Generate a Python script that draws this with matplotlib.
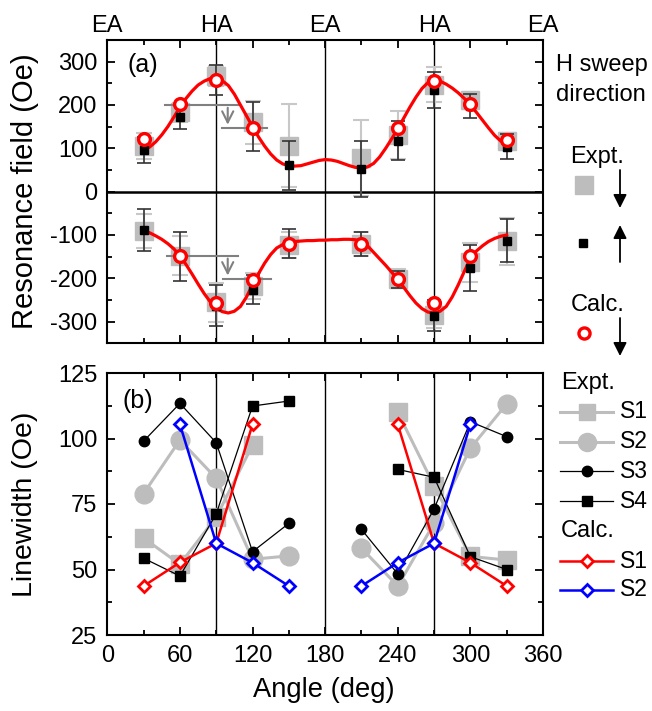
import numpy as np
import matplotlib
matplotlib.use("Agg")
import matplotlib.pyplot as plt
from matplotlib.ticker import MultipleLocator

plt.rcParams['font.family'] = ['Liberation Sans', 'DejaVu Sans']
plt.rcParams['axes.unicode_minus'] = False

# ---------------- data: panel (a) ----------------
ang = [30, 60, 90, 120, 150, 210, 240, 270, 300, 330]
up_gray = [105, 183, 266, 160, 106, 78, 131, 247, 211, 116]
up_gray_err = [30, 22, 23, 50, 96, 87, 55, 40, 20, 20]
up_black = [96, 172, 258, 150, 61, 53, 118, 235, 198, 104]
up_black_err = [30, 27, 35, 57, 57, 65, 44, 42, 27, 28]
lo_gray = [-91, -148, -255, -218, -122, -120, -201, -284, -163, -115]
lo_gray_err = [40, 45, 45, 30, 30, 28, 22, 30, 45, 55]
lo_black = [-89, -150, -263, -226, -120, -120, -203, -286, -176, -113]
lo_black_err = [49, 56, 48, 33, 33, 28, 20, 35, 53, 50]

calc_up_ang = [30, 60, 90, 120, 240, 270, 300, 330]
calc_up = [121, 202, 257, 147, 147, 255, 202, 120]
calc_lo_ang = [60, 90, 120, 150, 210, 240, 270, 300]
calc_lo = [-148, -256, -203, -120, -120, -201, -257, -148]

curve_ang = [30, 35, 40, 45, 50, 55, 60, 65, 70, 75, 80, 85, 90, 95, 100, 105, 110,
             115, 120, 125, 130, 135, 140, 145, 150, 155, 160, 165, 170, 175, 180,
             185, 190, 195, 200, 205, 210, 215, 220, 225, 230, 235, 240, 245, 250,
             255, 260, 265, 270, 275, 280, 285, 290, 295, 300, 305, 310, 315, 320,
             325, 330]
curve_up = [95, 103, 115, 131, 150, 172, 195, 215, 232, 246, 255, 261, 262, 256, 245,
            225, 200, 175, 150, 126, 105, 87, 73, 64, 60, 59, 60, 64, 68, 72, 74,
            73, 70, 65, 60, 56, 54, 57, 65, 80, 100, 122, 145, 170, 195, 218, 238,
            252, 258, 255, 248, 239, 228, 215, 200, 183, 165, 147, 130, 117, 108]
curve_lo = [-90, -95, -102, -110, -120, -132, -148, -168, -190, -213, -235, -254,
            -268, -277, -280, -276, -265, -243, -215, -189, -165, -145, -130, -122,
            -118, -115, -114, -113, -113, -112, -112, -111, -111, -110, -110, -111,
            -115, -125, -140, -155, -170, -186, -203, -221, -240, -257, -270, -278,
            -280, -276, -265, -243, -215, -184, -155, -137, -125, -115, -108, -103,
            -100]

# ---------------- data: panel (b) ----------------
ang_b = [30, 60, 90, 120, 150, 180, 210, 240, 270, 300, 330]
nan = np.nan
s1_expt = [62, 52, 70, 97.5, nan, nan, nan, 110, 82, 55, 53.6]
s2_expt = [79, 99.4, 84.8, 53.9, 55.2, nan, 58.1, 43.7, 67.6, 96.3, 113.2]
s3_expt = [99, 113.4, 98.4, 56.8, 67.6, nan, 65.3, 48.3, 73.1, 106.4, 100.7]
s4_expt = [54.3, 47.5, 71.2, 112.4, 114.3, nan, nan, 88.2, 85.2, 54.9, 50]
s1_calc = [43.7, 52.7, 60, 105.4, nan, nan, nan, 105.4, 60, 52.6, 43.7]
s2_calc = [nan, 105.4, 60, 52.6, 43.7, nan, 43.7, 52.6, 60, 105.4, nan]

top_labels = ['EA', 'HA', 'EA', 'HA', 'EA']
top_label_pos = [0, 90, 180, 270, 360]

GRAY = '#bdbdbd'
GRAY_ERR = '#c8c8c8'

W, H = 652, 711
fig = plt.figure(figsize=(W / 100, H / 100), dpi=100)

def px_axes(x0, y0, x1, y1):
    return fig.add_axes([x0 / W, 1 - y1 / H, (x1 - x0) / W, (y1 - y0) / H])

axa = px_axes(107.3, 40, 543, 343.3)
axb = px_axes(107.3, 373, 543, 635)

for ax in (axa, axb):
    ax.set_xlim(0, 360)
    ax.xaxis.set_major_locator(MultipleLocator(60))
    ax.xaxis.set_minor_locator(MultipleLocator(30))
    ax.tick_params(which='both', direction='in', top=True, right=True,
                   labelsize=17, width=1.3)
    ax.tick_params(which='major', length=6)
    ax.tick_params(which='minor', length=3.5)
    for s in ax.spines.values():
        s.set_linewidth(1.5)
    for xv in (90, 180, 270):
        ax.axvline(xv, color='k', lw=1.0, zorder=1)

# ---- panel (a)
axa.set_ylim(-350, 350)
axa.yaxis.set_major_locator(MultipleLocator(100))
axa.yaxis.set_minor_locator(MultipleLocator(50))
axa.tick_params(axis='x', labelbottom=False)
axa.tick_params(axis='y', pad=7)
axa.axhline(0, color='k', lw=1.8, zorder=1)

for vals, errs in ((up_gray, up_gray_err), (lo_gray, lo_gray_err)):
    axa.errorbar(ang, vals, yerr=errs, fmt='s', ms=13, color=GRAY, mec=GRAY,
                 ecolor=GRAY_ERR, elinewidth=1.5, capsize=6, capthick=1.5, zorder=2)
for vals, errs in ((up_black, up_black_err), (lo_black, lo_black_err)):
    axa.errorbar(ang, vals, yerr=errs, fmt='none', ecolor='#333333',
                 elinewidth=1.2, capsize=5, capthick=1.2, zorder=3)
axa.plot(curve_ang, curve_up, color='red', lw=2.3, zorder=4)
axa.plot(curve_ang, curve_lo, color='red', lw=2.3, zorder=4)
axa.plot(ang, up_black, 's', ms=5.5, color='k', zorder=5)
axa.plot(ang, lo_black, 's', ms=5.5, color='k', zorder=5)
axa.plot(calc_up_ang, calc_up, 'o', ms=8.5, mfc='white', mec='red', mew=2.4, zorder=6)
axa.plot(calc_lo_ang, calc_lo, 'o', ms=8.5, mfc='white', mec='red', mew=2.4, zorder=6)

# gray shift annotations
ac = '#808080'
axa.plot([48, 108], [200, 200], color=ac, lw=1.5, zorder=3.5)
axa.plot([95, 132], [147, 147], color=ac, lw=1.5, zorder=3.5)
axa.annotate('', xy=(99.5, 148), xytext=(99.5, 200),
             arrowprops=dict(arrowstyle='->', color=ac, lw=1.5, mutation_scale=20), zorder=3.5)
axa.plot([49, 108], [-148, -148], color=ac, lw=1.5, zorder=3.5)
axa.plot([96, 135], [-201, -201], color=ac, lw=1.5, zorder=3.5)
axa.annotate('', xy=(99.5, -200), xytext=(99.5, -148),
             arrowprops=dict(arrowstyle='->', color=ac, lw=1.5, mutation_scale=20), zorder=3.5)

for xv, lab in zip(top_label_pos, top_labels):
    axa.text(xv, 1.026, lab, transform=axa.get_xaxis_transform(), ha='center',
             va='baseline', fontsize=17, clip_on=False)
axa.text(0.0475, 0.918, '(a)', transform=axa.transAxes, fontsize=18, va='center', ha='left')

# ---- panel (b)
axb.set_ylim(25, 125)
axb.yaxis.set_major_locator(MultipleLocator(25))
axb.yaxis.set_minor_locator(MultipleLocator(12.5))
axb.tick_params(axis='x', pad=7)
axb.tick_params(axis='y', pad=7)

axb.plot(ang_b, s1_expt, '-s', color=GRAY, lw=2.2, ms=12.5, zorder=2)
axb.plot(ang_b, s2_expt, '-o', color=GRAY, lw=2.2, ms=13.5, zorder=2)
axb.plot(ang_b, s3_expt, '-o', color='k', lw=0.9, ms=7.5, zorder=3)
axb.plot(ang_b, s4_expt, '-s', color='k', lw=0.9, ms=7.5, zorder=3)
axb.plot(ang_b, s1_calc, '-D', color='red', lw=1.8, ms=6.3, mfc='white', mew=2, zorder=4)
axb.plot(ang_b, s2_calc, '-D', color='blue', lw=1.8, ms=6.3, mfc='white', mew=2, zorder=4)
axb.text(0.036, 0.893, '(b)', transform=axb.transAxes, fontsize=18, va='center', ha='left')

# labels
fig.text(25 / W, 1 - 191 / H, 'Resonance field (Oe)', rotation=90, ha='center',
         va='center', fontsize=21)
fig.text(25 / W, 1 - 504 / H, 'Linewidth (Oe)', rotation=90, ha='center',
         va='center', fontsize=20.5)
fig.text(324 / W, 1 - 690 / H, 'Angle (deg)', ha='center', va='center', fontsize=19.7)

# ---------------- legends (overlay in pixel coords) ----------------
ov = fig.add_axes([0, 0, 1, 1], zorder=10)
ov.set_xlim(0, W)
ov.set_ylim(H, 0)
ov.axis('off')
ov.patch.set_alpha(0)

ov.text(556, 65, 'H sweep', fontsize=17, va='center', ha='left')
ov.text(556, 95, 'direction', fontsize=17, va='center', ha='left')
ov.text(597, 157, 'Expt.', fontsize=17, va='center', ha='center')
ov.plot([584], [185], 's', ms=13, color=GRAY)
ov.plot([583.3], [243.3], 's', ms=5.5, color='k')
ov.text(598, 305, 'Calc.', fontsize=17, va='center', ha='center')
ov.plot([584], [333], 'o', ms=8, mfc='white', mec='red', mew=2.4)
arr = dict(arrowstyle='-|>', color='k', lw=1.3, mutation_scale=20, shrinkA=0, shrinkB=0)
ov.annotate('', xy=(620, 208), xytext=(620, 170), arrowprops=arr)
ov.annotate('', xy=(620, 225), xytext=(620, 262), arrowprops=arr)
ov.annotate('', xy=(620, 356), xytext=(620, 318), arrowprops=arr)

rows = [
    ('Expt.', None, 383),
    ('S1', dict(marker='s', color=GRAY, lw=2.2, ms=12), 412),
    ('S2', dict(marker='o', color=GRAY, lw=2.2, ms=13), 442),
    ('S3', dict(marker='o', color='k', lw=0.9, ms=7.5), 471),
    ('S4', dict(marker='s', color='k', lw=0.9, ms=7.5), 501),
    ('Calc.', None, 531),
    ('S1', dict(marker='D', color='red', lw=1.8, ms=6.3, mfc='white', mew=2), 561),
    ('S2', dict(marker='D', color='blue', lw=1.8, ms=6.3, mfc='white', mew=2), 590),
]
for lab, st, y in rows:
    if st is None:
        ov.text(561, y, lab, fontsize=17, va='center', ha='left')
    else:
        ov.plot([560, 613], [y, y], color=st['color'], lw=st['lw'])
        kw = {k: v for k, v in st.items() if k not in ('lw',)}
        ov.plot([586.7], [y], linestyle='none', **kw)
        ov.text(620, y, lab, fontsize=16.5, va='center', ha='left')

fig.savefig('out.png', dpi=100)
